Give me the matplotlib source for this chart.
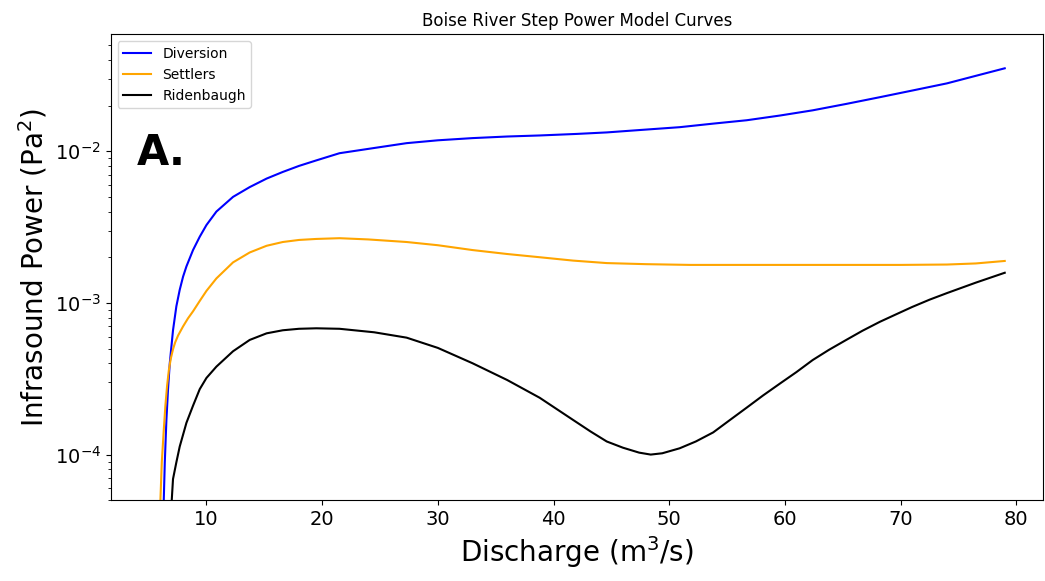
import matplotlib
matplotlib.use("Agg")
import matplotlib.pyplot as plt

# Diversion
div_x = [6.25, 6.31, 6.40, 6.54, 6.68, 6.83, 7.11, 7.40, 7.69, 7.98, 8.27, 8.84, 9.42,
         10.0, 10.86, 12.3, 13.74, 15.2, 16.6, 18.0, 19.5, 21.5, 24.5, 27.3, 30.0, 33.0,
         36.0, 38.8, 42.0, 44.6, 47.5, 50.9, 53.8, 56.7, 59.6, 62.4, 65.3, 68.2, 71.1,
         74.0, 76.5, 79.0]
div_y = [3.0e-5, 5.0e-5, 8.9e-5, 1.7e-4, 2.7e-4, 4.0e-4, 6.6e-4, 9.5e-4, 1.22e-3, 1.49e-3,
         1.74e-3, 2.23e-3, 2.73e-3, 3.26e-3, 4.0e-3, 5.0e-3, 5.8e-3, 6.6e-3, 7.3e-3, 8.0e-3,
         8.7e-3, 9.7e-3, 1.05e-2, 1.13e-2, 1.18e-2, 1.22e-2, 1.25e-2, 1.27e-2, 1.3e-2,
         1.33e-2, 1.38e-2, 1.44e-2, 1.52e-2, 1.6e-2, 1.72e-2, 1.86e-2, 2.05e-2, 2.27e-2,
         2.52e-2, 2.8e-2, 3.14e-2, 3.52e-2]

# Settlers
set_x = [5.9, 6.02, 6.14, 6.31, 6.45, 6.60, 6.75, 6.92, 7.11, 7.30, 7.55, 7.98, 8.40,
         8.84, 9.42, 10.0, 10.86, 12.3, 13.74, 15.2, 16.6, 18.0, 19.5, 21.5, 24.0, 27.3,
         30.0, 33.0, 36.0, 38.8, 41.7, 44.6, 48.0, 51.8, 60.0, 70.0, 74.0, 76.5, 79.0]
set_y = [3.0e-5, 5.0e-5, 8.9e-5, 1.45e-4, 2.1e-4, 2.85e-4, 3.6e-4, 4.3e-4, 4.95e-4,
         5.5e-4, 6.1e-4, 7.0e-4, 7.9e-4, 8.8e-4, 1.03e-3, 1.2e-3, 1.45e-3, 1.85e-3, 2.15e-3,
         2.38e-3, 2.52e-3, 2.6e-3, 2.64e-3, 2.67e-3, 2.62e-3, 2.52e-3, 2.4e-3, 2.23e-3,
         2.1e-3, 2.0e-3, 1.9e-3, 1.83e-3, 1.8e-3, 1.78e-3, 1.78e-3, 1.78e-3, 1.79e-3,
         1.82e-3, 1.89e-3]

# Ridenbaugh
rid_x = [6.95, 7.0, 7.11, 7.40, 7.69, 8.27, 8.84, 9.42, 10.0, 10.86, 12.3, 13.74, 15.2,
         16.6, 18.0, 19.5, 21.5, 24.5, 27.3, 30.0, 33.0, 36.0, 38.8, 41.7, 43.2, 44.6, 46.0,
         47.4, 48.4, 49.4, 50.9, 52.3, 53.8, 55.2, 56.7, 58.1, 59.6, 61.0, 62.4, 63.8,
         65.3, 66.7, 68.2, 69.6, 71.0, 72.5, 74.0, 76.5, 79.0]
rid_y = [3.0e-5, 5.0e-5, 6.9e-5, 8.9e-5, 1.13e-4, 1.62e-4, 2.1e-4, 2.7e-4, 3.2e-4, 3.8e-4,
         4.8e-4, 5.7e-4, 6.3e-4, 6.6e-4, 6.75e-4, 6.8e-4, 6.75e-4, 6.4e-4, 5.9e-4, 5.05e-4,
         4.0e-4, 3.1e-4, 2.37e-4, 1.69e-4, 1.42e-4, 1.22e-4, 1.11e-4, 1.03e-4, 1.0e-4,
         1.02e-4, 1.1e-4, 1.22e-4, 1.4e-4, 1.68e-4, 2.04e-4, 2.45e-4, 2.95e-4, 3.5e-4,
         4.2e-4, 4.9e-4, 5.7e-4, 6.55e-4, 7.5e-4, 8.4e-4, 9.4e-4, 1.05e-3, 1.16e-3,
         1.36e-3, 1.58e-3]

fig = plt.figure(figsize=(10.45, 5.81), dpi=100)
ax = fig.add_axes([0.106, 0.139, 0.892, 0.802])

ax.plot(div_x, div_y, color="blue", lw=1.5, label="Diversion")
ax.plot(set_x, set_y, color="orange", lw=1.5, label="Settlers")
ax.plot(rid_x, rid_y, color="black", lw=1.5, label="Ridenbaugh")

ax.set_yscale("log")
ax.set_xlim(1.73, 82.3)
ax.set_ylim(5e-5, 0.059)

ax.set_title("Boise River Step Power Model Curves", fontsize=12)
ax.set_xlabel("Discharge (m$^3$/s)", fontsize=20)
ax.set_ylabel("Infrasound Power (Pa$^2$)", fontsize=20)
ax.tick_params(axis="both", which="major", labelsize=14)
ax.legend(loc="upper left", fontsize=10)
ax.text(0.028, 0.745, "A.", transform=ax.transAxes, fontsize=30, fontweight="bold",
        va="center", ha="left")

fig.savefig("out.png", dpi=100)
